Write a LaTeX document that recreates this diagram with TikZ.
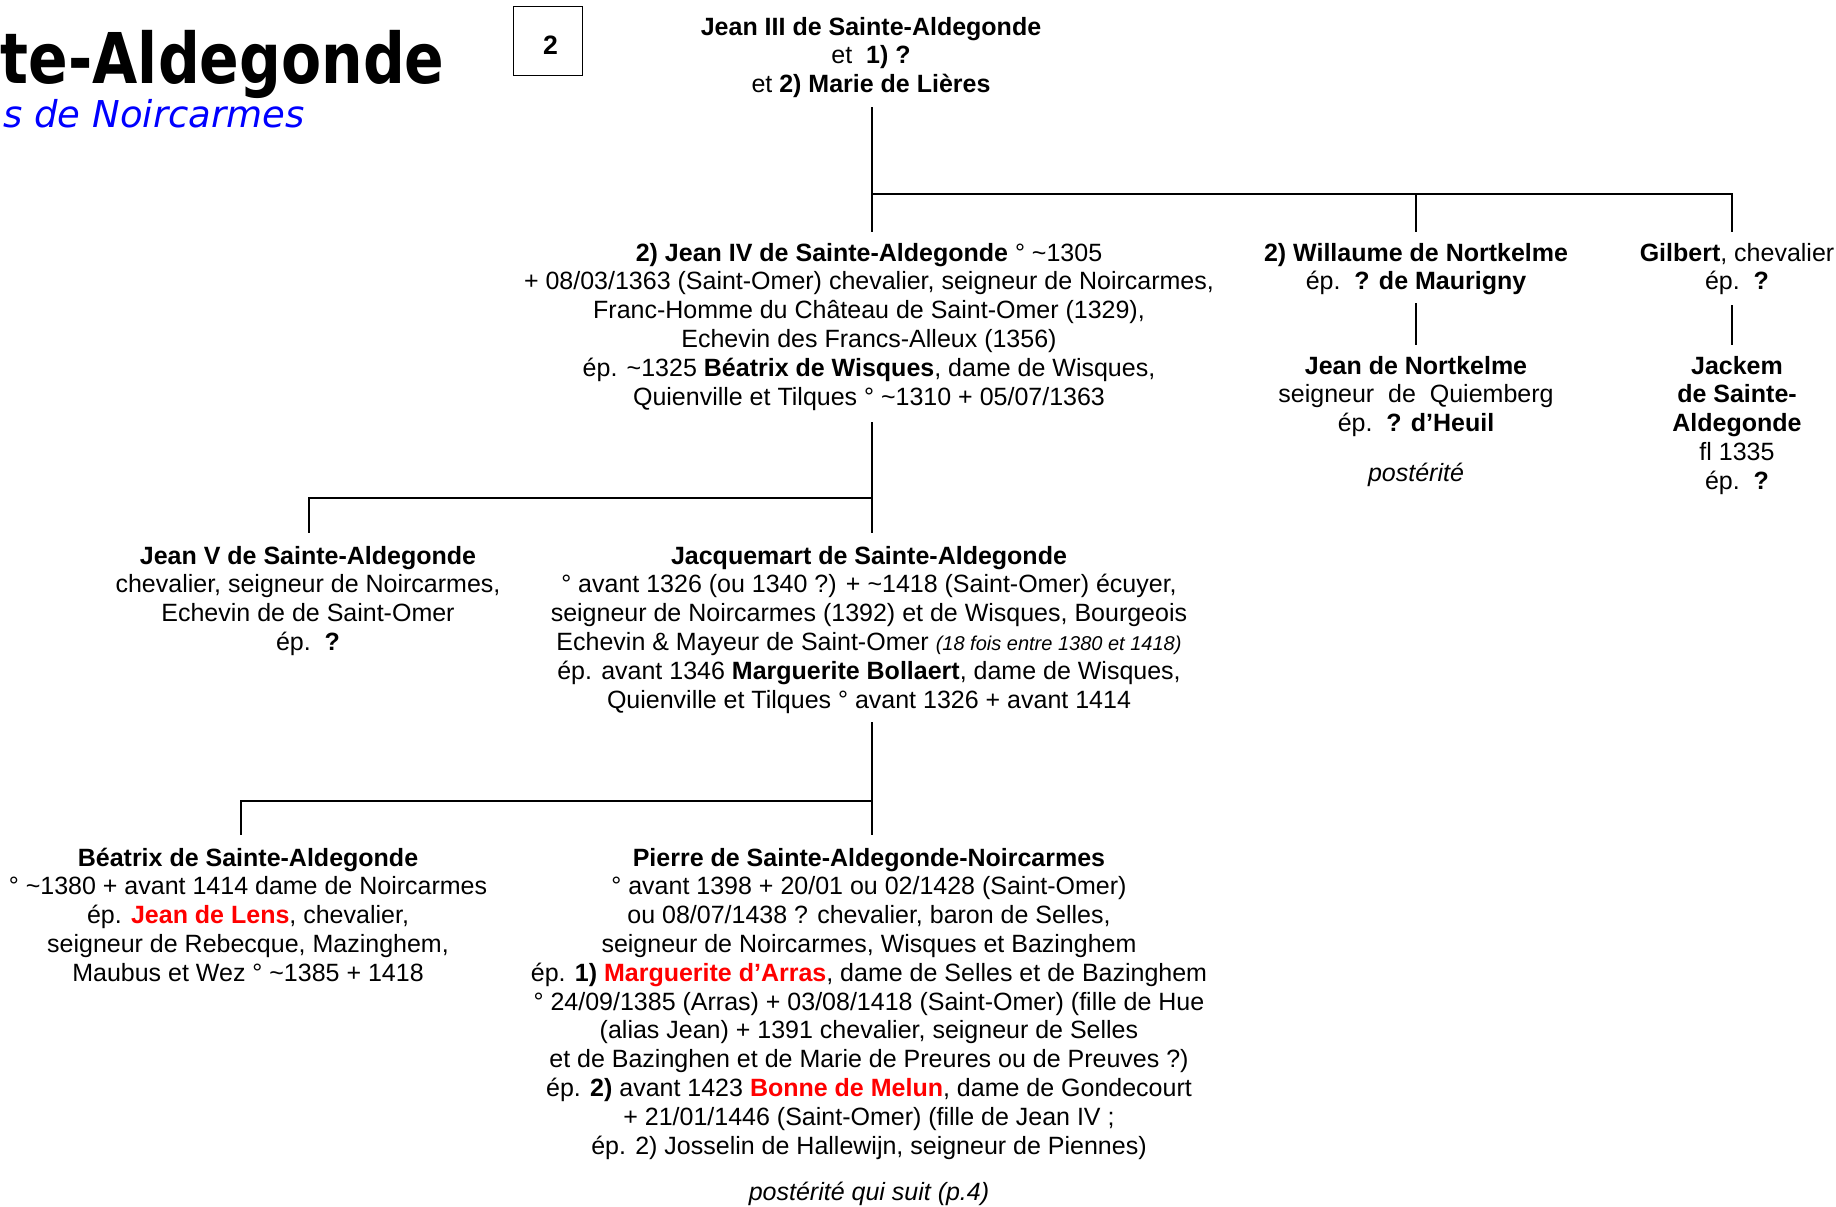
\documentclass[tikz,border=0pt]{standalone}
\usepackage{fontspec}
\setmainfont{Liberation Sans}
\newfontfamily\titrefont{DejaVu Sans}
\usepackage{xcolor}
\usepackage{tikz}
\definecolor{nomrouge}{RGB}{255,0,0}
\definecolor{sousbleu}{RGB}{0,0,255}
\newcommand{\ti}{\textasciitilde}
\newcommand{\rouge}[1]{\textcolor{nomrouge}{\textbf{#1}}}

\begin{document}
\begin{tikzpicture}[x=0.5pt, y=-0.5pt, every node/.style={inner sep=0pt, font=\fontsize{12.5pt}{14.4pt}\selectfont}]
\tikzstyle{person}=[align=center, anchor=base]
\tikzstyle{branch}=[line width=1pt]
\useasboundingbox (0,0) rectangle (1836,1206);
\node[anchor=base east] (titre) at (445,83) {\scalebox{0.835}[1]{\titrefont\fontsize{35pt}{40pt}\selectfont\bfseries te-Aldegonde}};
\node[anchor=base east, text=sousbleu] (soustitre) at (305,127) {\titrefont\fontsize{18.5pt}{22pt}\selectfont\itshape s de Noircarmes};
\node[draw, line width=0.5pt, minimum size=34.5pt, font=\fontsize{13.3pt}{15pt}\selectfont\bfseries] (page) at (547.5,40.5) {\hspace*{3pt}\raisebox{-2.5pt}[\height][\depth]{2}};
\node[person] (jean3) at (871,92.6) {\textbf{Jean III de Sainte-Aldegonde}\\ et\ \ \textbf{1) ?}\\ et \textbf{2) Marie de Lières}};
\node[person] (jean4) at (869,405) {\textbf{2) Jean IV de Sainte-Aldegonde} ° \ti1305\\
+ 08/03/1363 (Saint-Omer) chevalier, seigneur de Noircarmes,\\
Franc-Homme du Château de Saint-Omer (1329),\\
Echevin des Francs-Alleux (1356)\\
ép. \ti1325 \textbf{Béatrix de Wisques}, dame de Wisques,\\
Quienville et Tilques ° \ti1310 + 05/07/1363};
\node[person] (willaume) at (1416,289.8) {\textbf{2) Willaume de Nortkelme}\\ ép.\ \ \textbf{? de Maurigny}};
\node[person] (gilbert) at (1737,289.8) {\textbf{Gilbert}, chevalier\\ ép.\ \ \textbf{?}};
\node[person] (nortkelme) at (1416,431.6) {\textbf{Jean de Nortkelme}\\ seigneur\ \ de\ \ Quiemberg\\ ép.\ \ \textbf{? d’Heuil}};
\node[person, font=\fontsize{12.5pt}{14.4pt}\selectfont\itshape] (posterite1) at (1416,481) {postérité};
\node[person] (jackem) at (1737,489.2) {\textbf{Jackem}\\ \textbf{de Sainte-}\\ \textbf{Aldegonde}\\ fl 1335\\ ép.\ \ \textbf{?}};
\node[person] (jean5) at (308,650.4) {\textbf{Jean V de Sainte-Aldegonde}\\
chevalier,\ seigneur\ de\ Noircarmes,\\
Echevin de de Saint-Omer\\
ép.\ \ \textbf{?}};
\node[person] (jacquemart) at (869,708) {\textbf{Jacquemart de Sainte-Aldegonde}\\
° avant 1326 (ou 1340 ?) + \ti1418 (Saint-Omer) écuyer,\\
seigneur de Noircarmes (1392) et de Wisques, Bourgeois\\
Echevin \& Mayeur de Saint-Omer {\fontsize{10pt}{12pt}\selectfont\itshape (18 fois entre 1380 et 1418)}\\
ép. avant 1346 \textbf{Marguerite Bollaert}, dame de Wisques,\\
Quienville et Tilques ° avant 1326 + avant 1414};
\node[person] (beatrix) at (248,981.2) {\textbf{Béatrix de Sainte-Aldegonde}\\
°\ \ti1380\ +\ avant\ 1414\ dame\ de\ Noircarmes\\
ép. \rouge{Jean de Lens}, chevalier,\\
seigneur\ de\ Rebecque,\ Mazinghem,\\
Maubus et Wez ° \ti1385 + 1418};
\node[person] (pierre) at (869,1154) {\textbf{Pierre de Sainte-Aldegonde-Noircarmes}\\
° avant 1398 + 20/01 ou 02/1428 (Saint-Omer)\\
ou 08/07/1438 ? chevalier, baron de Selles,\\
seigneur\ de\ Noircarmes,\ Wisques\ et\ Bazinghem\\
ép. \textbf{1)} \rouge{Marguerite d’Arras}, dame de Selles et de Bazinghem\\
° 24/09/1385 (Arras) + 03/08/1418 (Saint-Omer) (fille de Hue\\
(alias Jean) + 1391 chevalier, seigneur de Selles\\
et de Bazinghen et de Marie de Preures ou de Preuves ?)\\
ép. \textbf{2)} avant 1423 \rouge{Bonne de Melun}, dame de Gondecourt\\
+ 21/01/1446 (Saint-Omer) (fille de Jean IV ;\\
ép. 2) Josselin de Hallewijn, seigneur de Piennes)};
\node[person, font=\fontsize{12.5pt}{14.4pt}\selectfont\itshape] (posterite2) at (869,1200) {postérité qui suit (p.4)};
\coordinate (jean3b) at (872,107);
\coordinate (jean4t) at (872,232);
\coordinate (fils1) at (872,194);
\coordinate (willaumet) at (1416,232);
\coordinate (gilbertt) at (1732,232);
\coordinate (willaumeb) at (1416,303);
\coordinate (nortkelmet) at (1416,345);
\coordinate (gilbertb) at (1732,305);
\coordinate (jackemt) at (1732,345);
\coordinate (jean4b) at (872,422);
\coordinate (jacquemartt) at (872,533);
\coordinate (fils2) at (872,498);
\coordinate (jean5t) at (309,533);
\coordinate (jacquemartb) at (872,722);
\coordinate (pierret) at (872,835);
\coordinate (fils3) at (872,801);
\coordinate (beatrixt) at (241,835);
\draw[branch] (jean3b) -- (jean4t);
\draw[branch] (fils1) -| (willaumet);
\draw[branch] (fils1) -| (gilbertt);
\draw[branch] (willaumeb) -- (nortkelmet);
\draw[branch] (gilbertb) -- (jackemt);
\draw[branch] (jean4b) -- (jacquemartt);
\draw[branch] (fils2) -| (jean5t);
\draw[branch] (jacquemartb) -- (pierret);
\draw[branch] (fils3) -| (beatrixt);
\end{tikzpicture}
\end{document}
